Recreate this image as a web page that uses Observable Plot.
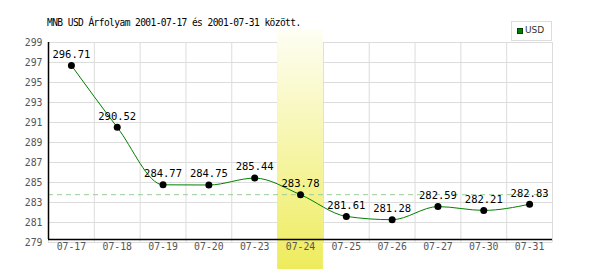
<!DOCTYPE html>
<html>
<head>
<meta charset="utf-8">
<script src="https://cdn.jsdelivr.net/npm/d3@7"></script>
<script src="https://cdn.jsdelivr.net/npm/@observablehq/plot@0.6"></script>
<style>
  html, body { margin: 0; padding: 0; background: #fff; }
  #wrap { position: relative; width: 600px; height: 270px; }
  #title { position: absolute; left: 47px; top: 17px; font-family: "DejaVu Sans Mono", monospace; font-size: 9.6px; letter-spacing: -0.6px; color: #000; white-space: nowrap; }
  #legend { position: absolute; left: 511px; top: 21px; width: 41px; height: 20px; border: 1px solid #ddd; background: #fff; box-sizing: border-box; }
  #legend .sw { position: absolute; left: 5px; top: 6px; width: 6px; height: 6px; background: #008000; border: 1px solid #004000; box-sizing: border-box; }
  #legend .lb { position: absolute; left: 13px; top: 3px; font-family: "DejaVu Sans", sans-serif; font-size: 9px; color: #333; }
</style>
</head>
<body>
<div id="wrap">
  <div id="title">MNB USD Árfolyam 2001-07-17 és 2001-07-31 között.</div>
  <div id="legend"><div class="sw"></div><div class="lb">USD</div></div>
</div>
<script>
const dates = ["07-17","07-18","07-19","07-20","07-23","07-24","07-25","07-26","07-27","07-30","07-31"];
const values = [296.71, 290.52, 284.77, 284.75, 285.44, 283.78, 281.61, 281.28, 282.59, 282.21, 282.83];
const highlightDate = "07-24";
const refValue = 283.78;
const yTicks = [279, 281, 283, 285, 287, 289, 291, 293, 295, 297, 299];

const idx = dates.map((d, i) => i);
const hi = dates.indexOf(highlightDate);
const bounds = dates.map((d, i) => i - 0.5).concat([dates.length - 0.5]);

const svg = Plot.plot({
  width: 600,
  height: 270,
  marginLeft: 48,
  marginRight: 48,
  marginTop: 42,
  marginBottom: 28,
  x: { type: "linear", domain: [-0.5, dates.length - 0.5], axis: null },
  y: { domain: [279, 299], axis: null },
  style: { fontFamily: "DejaVu Sans Mono, monospace", fontSize: "10px", background: "#fff" },
  marks: [
    Plot.ruleY(yTicks, { stroke: "#dcdcdc", strokeWidth: 1 }),
    Plot.ruleX(bounds, { stroke: "#dcdcdc", strokeWidth: 1 }),
    Plot.rect([hi], { x1: i => i - 0.5, x2: i => i + 0.5, fill: "url(#hl)", insetTop: -12, insetBottom: -27 }),
    Plot.ruleY([refValue], { stroke: "#99cc99", strokeDasharray: "5,4", strokeWidth: 1 }),
    Plot.ruleY([279], { stroke: "#000", strokeWidth: 1.5, dy: -3 }),
    Plot.ruleX([-0.5], { stroke: "#000", strokeWidth: 1.5, insetBottom: 3 }),
    Plot.line(idx, { x: i => i, y: i => values[i], stroke: "#008000", strokeWidth: 1, curve: "monotone-x" }),
    Plot.dot(idx, { x: i => i, y: i => values[i], r: 3.5, fill: "#000", stroke: "none" }),
    Plot.text(idx, { x: i => i, y: i => values[i], text: i => values[i].toFixed(2), dy: -11, fill: "#000", fontSize: 10.5 }),
    Plot.text(idx, { x: i => i, text: i => dates[i], frameAnchor: "bottom", dy: 7, fill: "#555", fontSize: 9.8 }),
    Plot.text(yTicks, { y: d => d, text: d => String(d), frameAnchor: "left", textAnchor: "end", dx: -6, fill: "#555", fontSize: 9.8 })
  ]
});

const defs = d3.select(svg).insert("defs", ":first-child");
const g = defs.append("linearGradient").attr("id", "hl").attr("x1", 0).attr("y1", 0).attr("x2", 0).attr("y2", 1);
g.append("stop").attr("offset", "0%").attr("stop-color", "#fefef4");
g.append("stop").attr("offset", "100%").attr("stop-color", "#eeec5c");

const wrap = document.getElementById("wrap");
wrap.insertBefore(svg, wrap.firstChild);
svg.style.position = "absolute";
svg.style.left = "0";
svg.style.top = "0";
</script>
</body>
</html>
